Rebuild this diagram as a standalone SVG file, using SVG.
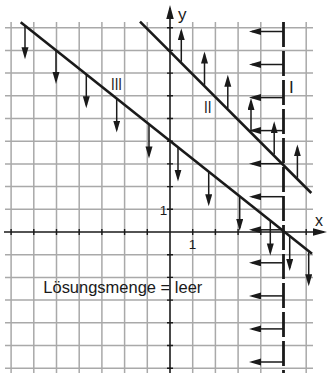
<svg xmlns="http://www.w3.org/2000/svg" width="327" height="373" viewBox="0 0 327 373">
<style>
.grid{stroke:#a9a9a9;stroke-width:1.5;fill:none}
.axis{stroke:#1a1a1a;stroke-width:1.6;fill:none}
.tick{stroke:#1a1a1a;stroke-width:1.4;fill:none}
.bound{stroke:#1a1a1a;stroke-width:2.6;fill:none}
.dash{stroke:#1a1a1a;stroke-width:2.8;fill:none;stroke-dasharray:25 4}
.arr{stroke:#1a1a1a;stroke-width:1.5;fill:none;marker-end:url(#ah)}
text{font-family:"Liberation Sans",Arial,sans-serif;fill:#1a1a1a}
</style>
<defs>
<marker id="ah" markerUnits="userSpaceOnUse" markerWidth="14" markerHeight="8" refX="9" refY="3.5" orient="auto">
<path d="M0,0 L12,3.5 L0,7 z" fill="#1a1a1a"/>
</marker>
<marker id="axh" markerUnits="userSpaceOnUse" markerWidth="16" markerHeight="9" refX="11" refY="3.75" orient="auto">
<path d="M0,0 L14,3.75 L0,7.5 z" fill="#1a1a1a"/>
</marker>
</defs>
<g id="grid">
<path class="grid" d="M11.1 22V373M33.8 22V373M56.5 22V373M79.2 22V373M101.9 22V373M124.6 22V373M147.3 22V373M192.7 22V373M215.4 22V373M238.1 22V373M260.8 22V373M306.2 22V373M5 27.7H313M5 50.4H313M5 73.1H313M5 95.8H313M5 118.5H313M5 141.2H313M5 163.9H313M5 186.6H313M5 209.3H313M5 254.7H313M5 277.4H313M5 300.1H313M5 322.8H313M5 345.5H313M5 368.2H313"/>
</g>
<g id="axes">
<path class="axis" d="M4 232H324" marker-end="url(#axh)"/>
<path class="axis" d="M170 373V8" marker-end="url(#axh)"/>
<path class="tick" d="M11.1 229V235M33.8 229V235M56.5 229V235M79.2 229V235M101.9 229V235M124.6 229V235M147.3 229V235M192.7 229V235M215.4 229V235M238.1 229V235M260.8 229V235M306.2 229V235M167 27.7H173M167 50.4H173M167 73.1H173M167 95.8H173M167 118.5H173M167 141.2H173M167 163.9H173M167 186.6H173M167 209.3H173M167 254.7H173M167 277.4H173M167 300.1H173M167 322.8H173M167 345.5H173M167 368.2H173"/>
<text x="178" y="20" font-size="17">y</text>
<text x="315" y="226" font-size="16">x</text>
<text x="163.5" y="215" font-size="13.5" text-anchor="middle">1</text>
<text x="192.5" y="248.5" font-size="13.5" text-anchor="middle">1</text>
</g>
<g id="line-I">
<path class="dash" d="M283.5 22V373"/>
<text x="289" y="93" font-size="17">I</text>
</g>
<g id="line-II">
<path class="bound" d="M140 21.7L311.3 193"/>
<text x="204" y="113" font-size="17" textLength="7.5" lengthAdjust="spacingAndGlyphs">II</text>
</g>
<g id="line-III">
<path class="bound" d="M20.7 22.3L312 253.7"/>
<text x="111" y="90" font-size="17" textLength="11" lengthAdjust="spacingAndGlyphs">III</text>
</g>
<g id="connectors">
<g id="arrows-I">
<path class="arr" d="M283.5 31.5H252"/>
<path class="arr" d="M283.5 64.5H252"/>
<path class="arr" d="M283.5 97.6H252"/>
<path class="arr" d="M283.5 130.6H252"/>
<path class="arr" d="M283.5 163.7H252"/>
<path class="arr" d="M283.5 196.7H252"/>
<path class="arr" d="M283.5 229.8H252"/>
<path class="arr" d="M283.5 262.8H252"/>
<path class="arr" d="M283.5 295.9H252"/>
<path class="arr" d="M283.5 328.9H252"/>
<path class="arr" d="M283.5 362H252"/>
</g>
<g id="arrows-II">
<path class="arr" d="M181.3 61.7V31.3"/>
<path class="arr" d="M204.5 84.9V54.5"/>
<path class="arr" d="M227.8 108.2V77.8"/>
<path class="arr" d="M251 131.4V101"/>
<path class="arr" d="M274.2 154.6V124.2"/>
<path class="arr" d="M297.4 177.8V147.4"/>
</g>
<g id="arrows-III">
<path class="arr" d="M25 25.2V56.2"/>
<path class="arr" d="M56 50V81"/>
<path class="arr" d="M86.3 74.2V105.2"/>
<path class="arr" d="M116.7 98.6V129.6"/>
<path class="arr" d="M149 124.4V155.4"/>
<path class="arr" d="M178 147.6V178.6"/>
<path class="arr" d="M208.7 172.2V203.2"/>
<path class="arr" d="M239.7 197V228"/>
<path class="arr" d="M270.3 221.4V252.4"/>
<path class="arr" d="M289.7 237V268"/>
<path class="arr" d="M308.7 252.2V283.2"/>
</g>
</g>
<g id="label">
<text x="43.3" y="293.3" font-size="17" textLength="159" lengthAdjust="spacingAndGlyphs">Lösungsmenge = leer</text>
</g>
</svg>
